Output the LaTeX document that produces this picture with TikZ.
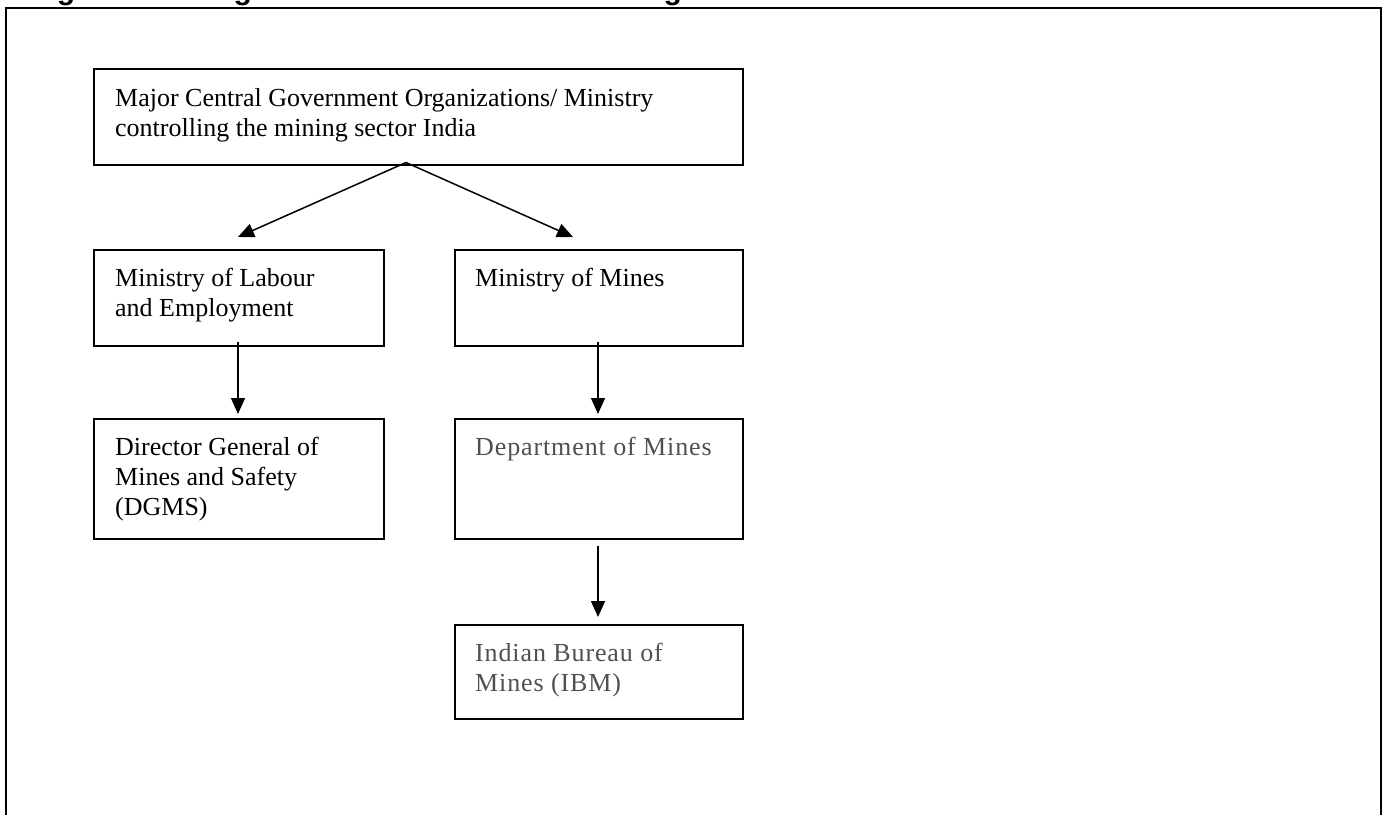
\documentclass[tikz,border=0pt]{standalone}
\usepackage{fontspec}
\setmainfont{Liberation Serif}
\newfontfamily\titlefont{Liberation Sans}
\newfontfamily\spacedfont[LetterSpace=3.4]{Liberation Serif}
\usetikzlibrary{arrows.meta}
\definecolor{graytext}{HTML}{505050}
\tikzset{
  box/.style={draw=black, line width=1.6pt, inner sep=0pt, anchor=north west},
  boxtext/.style={inner sep=0pt, anchor=north west, align=left, font=\fontsize{26}{30}\selectfont},
  graybox/.style={boxtext, text=graytext, font=\fontsize{26}{30}\spacedfont},
  conn/.style={line width=1.5pt, -{Triangle[length=16pt,width=14pt]}},
  frame/.style={line width=2.2pt}
}
\begin{document}
\begin{tikzpicture}[x=1pt,y=-1pt]
\useasboundingbox (0,0) rectangle (1388,814);
% clipped title
\node[anchor=base west, inner sep=0pt, font=\fontsize{30}{34}\titlefont\bfseries] (title) at (30,-0.2) {Figure showing bodies involved in the mining sector};
% outer frame
\coordinate (fbl) at (6,830);
\coordinate (ftl) at (6,8);
\coordinate (ftr) at (1381,8);
\coordinate (fbr) at (1381,830);
\draw[frame] (fbl) -- (ftl) -- (ftr) -- (fbr);
% boxes
\node[box, minimum width=649pt, minimum height=96pt] (top) at (93,68) {};
\node[box, minimum width=290pt, minimum height=96pt] (lab) at (93,249) {};
\node[box, minimum width=288pt, minimum height=96pt] (mom) at (454,249) {};
\node[box, minimum width=290pt, minimum height=120pt] (dgms) at (93,418) {};
\node[box, minimum width=288pt, minimum height=120pt] (dom) at (454,418) {};
\node[box, minimum width=288pt, minimum height=94pt] (ibm) at (454,624) {};
% texts
\node[boxtext] (topT) at (115,88) {Major Central Government Organizations/ Ministry\\controlling the mining sector India};
\node[boxtext] (labT) at (115,268) {Ministry of Labour\\and Employment};
\node[boxtext] (momT) at (475,268) {Ministry of Mines};
\node[boxtext] (dgmsT) at (115,437) {Director General of\\Mines and Safety\\(DGMS)};
\node[graybox] (domT) at (475,437) {Department of Mines};
\node[graybox] (ibmT) at (475,643) {Indian Bureau of\\Mines (IBM)};
% connector points
\coordinate (apex) at (406,162.5);
\coordinate (tipL) at (238,237);
\coordinate (tipR) at (573,237);
\coordinate (labS) at (238,342);
\coordinate (dgmsN) at (238,414);
\coordinate (momS) at (598,342);
\coordinate (domN) at (598,414);
\coordinate (domS) at (598,546);
\coordinate (ibmN) at (598,617);
\draw[conn] (apex) -- (tipL);
\draw[conn] (apex) -- (tipR);
\draw[conn] (labS) -- (dgmsN);
\draw[conn] (momS) -- (domN);
\draw[conn] (domS) -- (ibmN);
\end{tikzpicture}
\end{document}
